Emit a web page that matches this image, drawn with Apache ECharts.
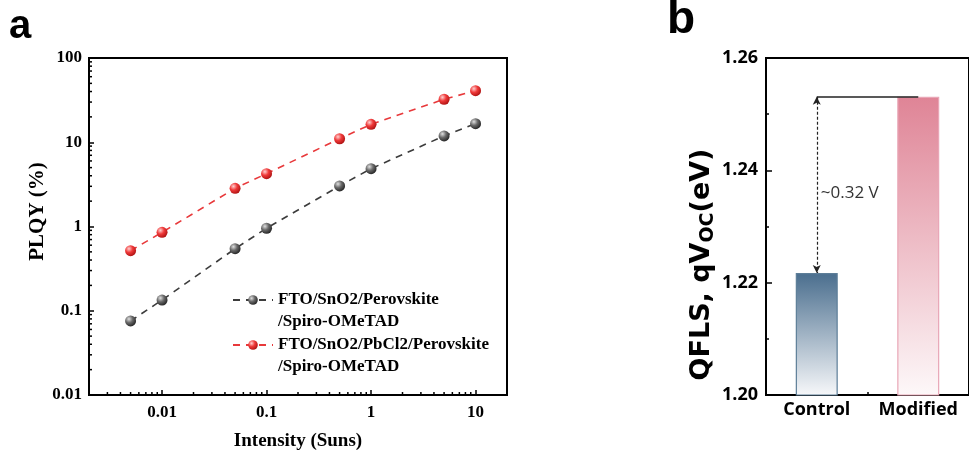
<!DOCTYPE html>
<html>
<head>
<meta charset="utf-8">
<script src="https://cdn.jsdelivr.net/npm/echarts@6/dist/echarts.min.js"></script>
<style>
html,body{margin:0;padding:0;background:#fff;}
#c{width:969px;height:457px;}
</style>
</head>
<body>
<div id="c"></div>
<script>
// ---------- data: panel a ----------
const intensity = [0.005, 0.01, 0.05, 0.1, 0.5, 1, 5, 10];
const plqyControl = [0.0756, 0.134, 0.545, 0.953, 3.03, 4.85, 11.9, 16.6];
const plqyPbCl2 = [0.516, 0.853, 2.84, 4.24, 11.0, 16.3, 32.4, 40.9];
const seriesNames = ['FTO/SnO2/Perovskite\n/Spiro-OMeTAD', 'FTO/SnO2/PbCl2/Perovskite\n/Spiro-OMeTAD'];
const xMinorTicks = [0.003,0.004,0.005,0.006,0.007,0.008,0.009,
  0.02,0.03,0.04,0.05,0.06,0.07,0.08,0.09,
  0.2,0.3,0.4,0.5,0.6,0.7,0.8,0.9,
  2,3,4,5,6,7,8,9];
const yMinorTicks = [0.02,0.03,0.04,0.05,0.06,0.07,0.08,0.09,
  0.2,0.3,0.4,0.5,0.6,0.7,0.8,0.9,
  2,3,4,5,6,7,8,9,
  20,30,40,50,60,70,80,90];
const xRange = [0.002, 20];
const yRange = [0.01, 100];

// ---------- data: panel b ----------
const groups = ['Control', 'Modified'];
const qfls = [1.2217, 1.2531];
const qflsRange = [1.20, 1.26];
const qflsInterval = 0.02;
const deltaText = '~0.32 V';

const serif = 'Liberation Serif';
const sans = 'Open Sans';

function ball(light, mid, dark) {
  return {type:'radial', x:0.35, y:0.32, r:0.75,
    colorStops:[{offset:0,color:light},{offset:0.45,color:mid},{offset:1,color:dark}]};
}
function isPow10(v){ const l = Math.log10(v); return Math.abs(l - Math.round(l)) < 1e-6; }
function fmtLog(v){ return isPow10(v) ? String(+v.toPrecision(6)) : ''; }

const barStyles = [
  {top:'#4a6e8e', bottom:'#f7f8fa', border:'#5d7e98'},
  {top:'#df8496', bottom:'#fdf8f9', border:'#e9a6b6'}
];

const chart = echarts.init(document.getElementById('c'), null, {renderer:'canvas'});

const minorTickSeries = (vals, isX) => ({
  type:'custom', xAxisIndex:0, yAxisIndex:0, silent:true, clip:false, z:5,
  data: vals.map(v => isX ? [v, yRange[0]] : [xRange[0], v]),
  renderItem(params, api){
    const p = api.coord([api.value(0), api.value(1)]);
    return isX
      ? {type:'line', shape:{x1:p[0], y1:p[1], x2:p[0], y2:p[1]-3}, style:{stroke:'#000', lineWidth:1.5}}
      : {type:'line', shape:{x1:p[0], y1:p[1], x2:p[0]+3, y2:p[1]}, style:{stroke:'#000', lineWidth:1.5}};
  }
});

const legendBase = {
  orient:'vertical', left:232, padding:0, itemWidth:40, itemHeight:12, itemGap:0,
  formatter: n => '\u00a0\n' + n,
  textStyle:{fontFamily:serif, fontWeight:'bold', fontSize:17, color:'#000', lineHeight:22}
};

const option = {
  backgroundColor:'#fff',
  animation:false,
  graphic:[
    {type:'text', left:9, top:7, style:{text:'a', fontFamily:'Liberation Sans', fontWeight:'bold', fontSize:40, fill:'#000'}},
    {type:'text', left:667, top:-3, style:{text:'b', fontFamily:'Liberation Sans', fontWeight:'bold', fontSize:46, fill:'#000'}}
  ],
  legend:[
    Object.assign({}, legendBase, {top:267, data:[seriesNames[0]]}),
    Object.assign({}, legendBase, {top:312, data:[seriesNames[1]]})
  ],
  grid:[
    {left:89, top:58, width:418, height:337, show:true, borderColor:'#000', borderWidth:2, backgroundColor:'transparent'},
    {left:766, top:58, width:209, height:337, show:true, borderColor:'#000', borderWidth:2, backgroundColor:'transparent'}
  ],
  xAxis:[
    {type:'log', gridIndex:0, min:xRange[0], max:xRange[1], logBase:10,
      name:'Intensity (Suns)', nameLocation:'middle', nameGap:37,
      nameTextStyle:{fontFamily:serif, fontWeight:'bold', fontSize:19, color:'#000'},
      axisLine:{show:true, lineStyle:{color:'#000', width:2}},
      axisTick:{show:true, inside:true, length:5, lineStyle:{color:'#000', width:1.5}},
      axisLabel:{formatter:fmtLog, fontFamily:serif, fontWeight:'bold', fontSize:17, color:'#000', margin:9},
      splitLine:{show:false}, minorTick:{show:false}},
    {type:'category', gridIndex:1, data:groups, boundaryGap:true,
      axisLine:{show:true, lineStyle:{color:'#000', width:2}},
      axisTick:{show:true, inside:true, alignWithLabel:true, length:6, lineStyle:{color:'#000', width:1.5}},
      axisLabel:{interval:0, showMaxLabel:true, hideOverlap:false, fontFamily:sans, fontWeight:'bold', fontSize:18, color:'#000', margin:6},
      splitLine:{show:false}},
    {type:'category', gridIndex:1, data:groups, boundaryGap:true, position:'bottom',
      axisLine:{show:false},
      axisTick:{show:true, inside:true, length:3, lineStyle:{color:'#000', width:1.5}},
      axisLabel:{show:false}, splitLine:{show:false}}
  ],
  yAxis:[
    {type:'log', gridIndex:0, min:yRange[0], max:yRange[1], logBase:10,
      name:'PLQY (%)', nameLocation:'middle', nameGap:38,
      nameTextStyle:{fontFamily:serif, fontWeight:'bold', fontSize:21, color:'#000', padding:[0,0,0,30]},
      axisLine:{show:true, lineStyle:{color:'#000', width:2}},
      axisTick:{show:true, inside:true, length:5, lineStyle:{color:'#000', width:1.5}},
      axisLabel:{formatter:fmtLog, fontFamily:serif, fontWeight:'bold', fontSize:17, color:'#000', margin:7},
      splitLine:{show:false}, minorTick:{show:false}},
    {type:'value', gridIndex:1, min:qflsRange[0], max:qflsRange[1], interval:qflsInterval,
      name:'{a|QFLS, qV}{s|OC}{a|(eV)}', nameLocation:'middle', nameGap:48,
      nameTextStyle:{padding:[0,76,0,0], rich:{
        a:{fontFamily:'DejaVu Sans', fontWeight:'bold', fontSize:27, color:'#000', lineHeight:32},
        s:{fontFamily:'DejaVu Sans', fontWeight:'bold', fontSize:19, color:'#000', lineHeight:6, verticalAlign:'bottom'}
      }},
      axisLine:{show:true, lineStyle:{color:'#000', width:2}},
      axisTick:{show:true, inside:true, length:6, lineStyle:{color:'#000', width:1.5}},
      minorTick:{show:true, splitNumber:2, length:3, lineStyle:{color:'#000', width:1.5}},
      axisLabel:{formatter:v => v.toFixed(2), fontFamily:sans, fontWeight:'bold', fontSize:18, color:'#000', margin:8},
      splitLine:{show:false}}
  ],
  series:[
    {name:seriesNames[0], type:'line', xAxisIndex:0, yAxisIndex:0,
      data:intensity.map((x,i)=>[x, plqyControl[i]]),
      symbol:'circle', symbolSize:11, z:3,
      lineStyle:{color:'#3c3c3c', width:1.6, type:[7,6]},
      itemStyle:{color:ball('#e0e0e0','#6a6a6a','#1e1e1e')}},
    {name:seriesNames[1], type:'line', xAxisIndex:0, yAxisIndex:0,
      data:intensity.map((x,i)=>[x, plqyPbCl2[i]]),
      symbol:'circle', symbolSize:11, z:3,
      lineStyle:{color:'#e8393b', width:1.6, type:[7,6]},
      itemStyle:{color:ball('#ffd0d0','#f03a3a','#a80e0e')}},
    minorTickSeries(xMinorTicks, true),
    minorTickSeries(yMinorTicks, false),
    {type:'bar', xAxisIndex:1, yAxisIndex:1, barWidth:42,
      data:qfls.map((v,i)=>({value:v, itemStyle:{
        color:{type:'linear', x:0, y:0, x2:0, y2:1, colorStops:[{offset:0,color:barStyles[i].top},{offset:1,color:barStyles[i].bottom}]},
        borderColor:barStyles[i].border, borderWidth:1.2}})),
      markLine:{silent:true, animation:false,
        label:{show:false},
        data:[
          [{coord:[groups[0], qfls[1]], symbol:'arrow', symbolSize:[6,8], lineStyle:{type:[3,2], color:'#222', width:1.2}},
           {coord:[groups[0], qfls[0]], symbol:'arrow', symbolSize:[6,8]}],
          [{coord:[groups[0], qfls[1]], symbol:'none', lineStyle:{type:'solid', color:'#222', width:1.5}},
           {coord:[groups[1], qfls[1]], symbol:'none'}]
        ]},
      markPoint:{silent:true, symbol:'circle', symbolSize:0,
        data:[{coord:[groups[0], (qfls[0]+qfls[1])/2],
          label:{show:true, position:'right', distance:0, offset:[4,8], formatter:deltaText,
            fontFamily:sans, fontSize:17, color:'#333'}}]}
    }
  ]
};
chart.setOption(option);
</script>
</body>
</html>
